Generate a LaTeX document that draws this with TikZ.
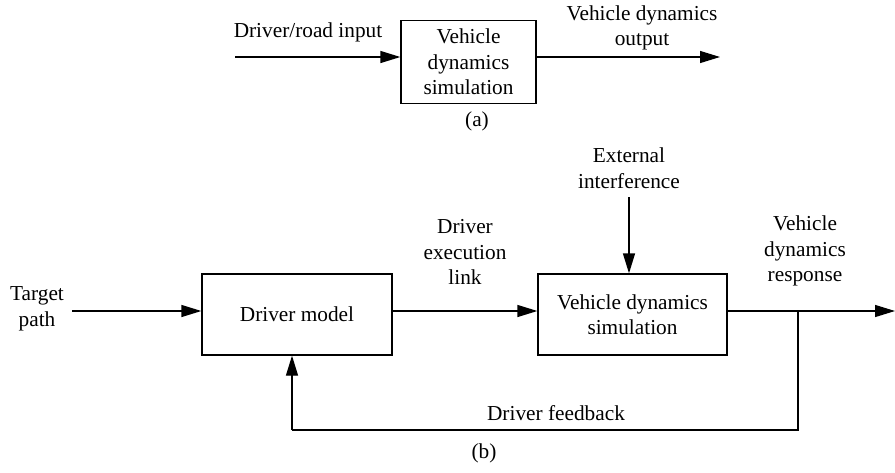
\documentclass[tikz,border=0pt]{standalone}
\usepackage{fontspec}
\setmainfont{Liberation Serif}
\usetikzlibrary{arrows.meta}
\begin{document}
\begin{tikzpicture}[x=1pt,y=-1pt,
  every node/.style={font=\fontsize{21.3pt}{25.5pt}\selectfont, inner sep=0pt},
  blockbox/.style={draw, line width=1.3pt, minimum width=#1, align=center},
  lbl/.style={align=center},
  flow/.style={line width=1.3pt, -{Triangle[length=20pt,width=12pt]}},
  wire/.style={line width=1.3pt}]
\useasboundingbox[fill=white] (0,0) rectangle (895,472);

% (a) open-loop simulation
\node[blockbox=135pt, minimum height=83pt] (simA) at (468.5,62) {Vehicle\\dynamics\\simulation};
\coordinate (inA) at (235,57);
\coordinate (outA) at (720,57);
\draw[flow] (inA) -- (inA -| simA.west);
\draw[flow] (simA.east |- outA) -- (outA);
\node[lbl] (inAlbl) at (308,32) {Driver/road input};
\node[lbl] (outAlbl) at (642,28) {Vehicle dynamics\\output};
\node (capA) at (477,121) {(a)};

% (b) closed-loop driver--vehicle system
\node[blockbox=190pt, minimum height=81pt] (drv) at (297,314.5) {Driver model};
\node[blockbox=189pt, minimum height=81pt] (veh) at (632.5,314.5) {Vehicle dynamics\\simulation};
\coordinate (inB) at (72,311);
\coordinate (outB) at (895,311);
\coordinate (extB) at (629,197);
\coordinate (tap) at (798,311);
\coordinate (fbR) at (798,430);
\coordinate (fbL) at (292,430);

\draw[flow] (inB) -- (inB -| drv.west);
\draw[flow] (drv.east |- inB) -- (veh.west |- inB);
\draw[flow] (veh.east |- outB) -- (outB);
\draw[flow] (extB) -- (extB |- veh.north);
\draw[wire] (tap) -- (fbR) -- (fbL);
\draw[flow] (fbL) -- (fbL |- drv.south);

\node[lbl] (tgt) at (37,309) {Target\\path};
\node[lbl] (exec) at (465,252) {Driver\\execution\\link};
\node[lbl] (ext) at (629,168) {External\\interference};
\node[lbl] (resp) at (805,251) {Vehicle\\dynamics\\response};
\node[lbl] (fb) at (556,413) {Driver feedback};
\node (capB) at (484,453) {(b)};
\end{tikzpicture}
\end{document}
